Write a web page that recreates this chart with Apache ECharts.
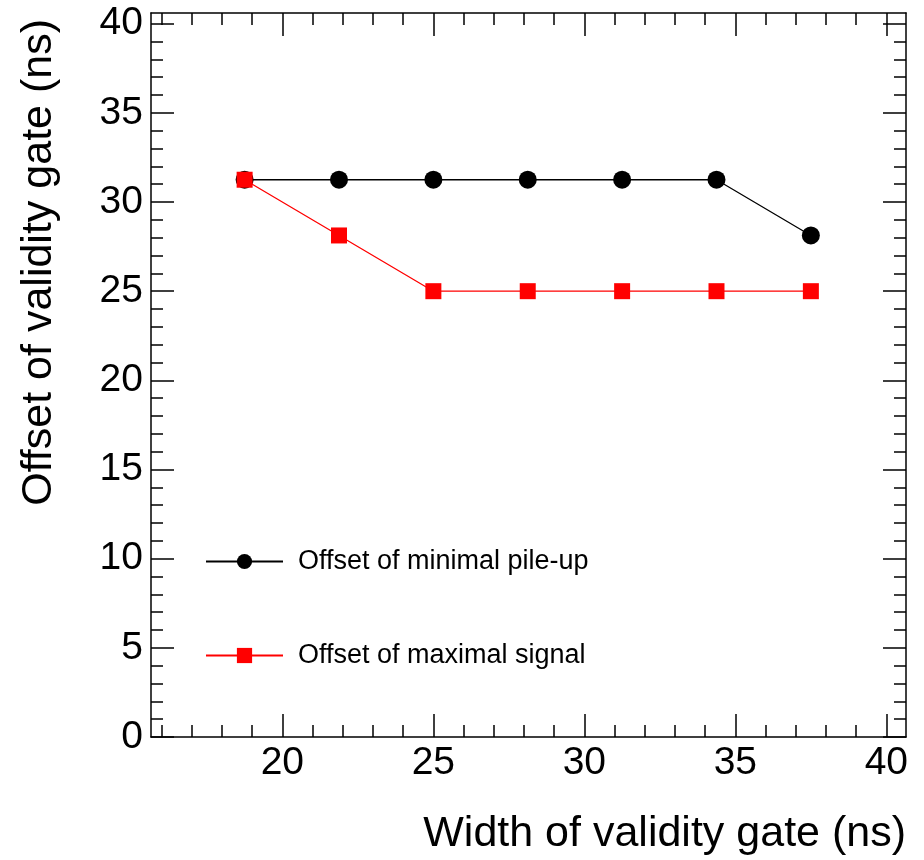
<!DOCTYPE html>
<html>
<head>
<meta charset="utf-8">
<script src="https://cdn.jsdelivr.net/npm/echarts@6/dist/echarts.min.js"></script>
<style>
html,body{margin:0;padding:0;background:#fff;}
#chart{width:924px;height:860px;}
</style>
</head>
<body>
<div id="chart"></div>
<script>
// ---- data ----
const gateWidths = [18.75, 21.875, 25, 28.125, 31.25, 34.375, 37.5];
const minimalPileUpOffsets = [31.25, 31.25, 31.25, 31.25, 31.25, 31.25, 28.125];
const maximalSignalOffsets = [31.25, 28.125, 25, 25, 25, 25, 25];
const seriesNames = ['Offset of minimal pile-up', 'Offset of maximal signal'];
const xMajorTicks = [20, 25, 30, 35, 40];
const yMajorTicks = [0, 5, 10, 15, 20, 25, 30, 35, 40];
const xMinorTicks = [16, 17, 18, 19, 21, 22, 23, 24, 26, 27, 28, 29, 31, 32, 33, 34, 36, 37, 38, 39];
const yMinorTicks = [1, 2, 3, 4, 6, 7, 8, 9, 11, 12, 13, 14, 16, 17, 18, 19, 21, 22, 23, 24, 26, 27, 28, 29, 31, 32, 33, 34, 36, 37, 38, 39];
const xTitle = 'Width of validity gate (ns)';
const yTitle = 'Offset of validity gate (ns)';

const X_MIN = 15.65, X_MAX = 40.65, Y_MIN = 0, Y_MAX = 40.6;
const FONT = '"Liberation Sans", Arial, Helvetica, sans-serif';
const LINE = '#000';

function mkAxis(kind, position, ticks, len, withLine, withLabels) {
  const isX = kind === 'x';
  return {
    type: 'value',
    position: position,
    min: isX ? X_MIN : Y_MIN,
    max: isX ? X_MAX : Y_MAX,
    axisLine: { show: withLine, onZero: false, lineStyle: { color: LINE, width: 1.5 } },
    axisTick: { show: true, inside: true, length: len, customValues: ticks, lineStyle: { color: LINE, width: 1.5 } },
    axisLabel: withLabels ? {
      show: true, customValues: ticks, color: '#000', fontSize: 39, fontFamily: FONT,
      margin: isX ? 7 : 8
    } : { show: false },
    splitLine: { show: false },
    minorTick: { show: false },
    minorSplitLine: { show: false }
  };
}

const chart = echarts.init(document.getElementById('chart'), null, { renderer: 'canvas' });
const option = {
  animation: false,
  backgroundColor: '#fff',
  grid: { left: 151, top: 13, right: 18, bottom: 123, show: false },
  xAxis: [
    mkAxis('x', 'bottom', xMajorTicks, 23, true, true),
    mkAxis('x', 'bottom', xMinorTicks, 12, false, false),
    mkAxis('x', 'top', xMajorTicks, 23, true, false),
    mkAxis('x', 'top', xMinorTicks, 12, false, false)
  ],
  yAxis: [
    mkAxis('y', 'left', yMajorTicks, 23, true, true),
    mkAxis('y', 'left', yMinorTicks, 12, false, false),
    mkAxis('y', 'right', yMajorTicks, 23, true, false),
    mkAxis('y', 'right', yMinorTicks, 12, false, false)
  ],
  legend: {
    show: true,
    orient: 'vertical',
    left: 205,
    top: 548,
    itemWidth: 77,
    itemHeight: 19,
    itemGap: 67,
    padding: 0,
    selectedMode: false,
    data: seriesNames,
    textStyle: { color: '#000', fontSize: 27, fontFamily: FONT, padding: [0, 0, 0, 10] }
  },
  graphic: [
    { type: 'text', x: 906, y: 834, style: { text: xTitle, fill: '#000', font: '43px ' + FONT, align: 'right', verticalAlign: 'middle' } },
    { type: 'text', x: 39, y: 19, rotation: Math.PI / 2, style: { text: yTitle, fill: '#000', font: '43px ' + FONT, align: 'right', verticalAlign: 'middle' } }
  ],
  series: [
    {
      name: seriesNames[0],
      type: 'line',
      xAxisIndex: 0, yAxisIndex: 0,
      data: gateWidths.map((x, i) => [x, minimalPileUpOffsets[i]]),
      symbol: 'circle', symbolSize: 18,
      itemStyle: { color: '#000' },
      lineStyle: { color: '#000', width: 1.3 },
      z: 2
    },
    {
      name: seriesNames[1],
      type: 'line',
      xAxisIndex: 0, yAxisIndex: 0,
      data: gateWidths.map((x, i) => [x, maximalSignalOffsets[i]]),
      symbol: 'rect', symbolSize: 16,
      itemStyle: { color: '#ff0000' },
      lineStyle: { color: '#ff0000', width: 1.3 },
      z: 3
    }
  ]
};
chart.setOption(option);
</script>
</body>
</html>
